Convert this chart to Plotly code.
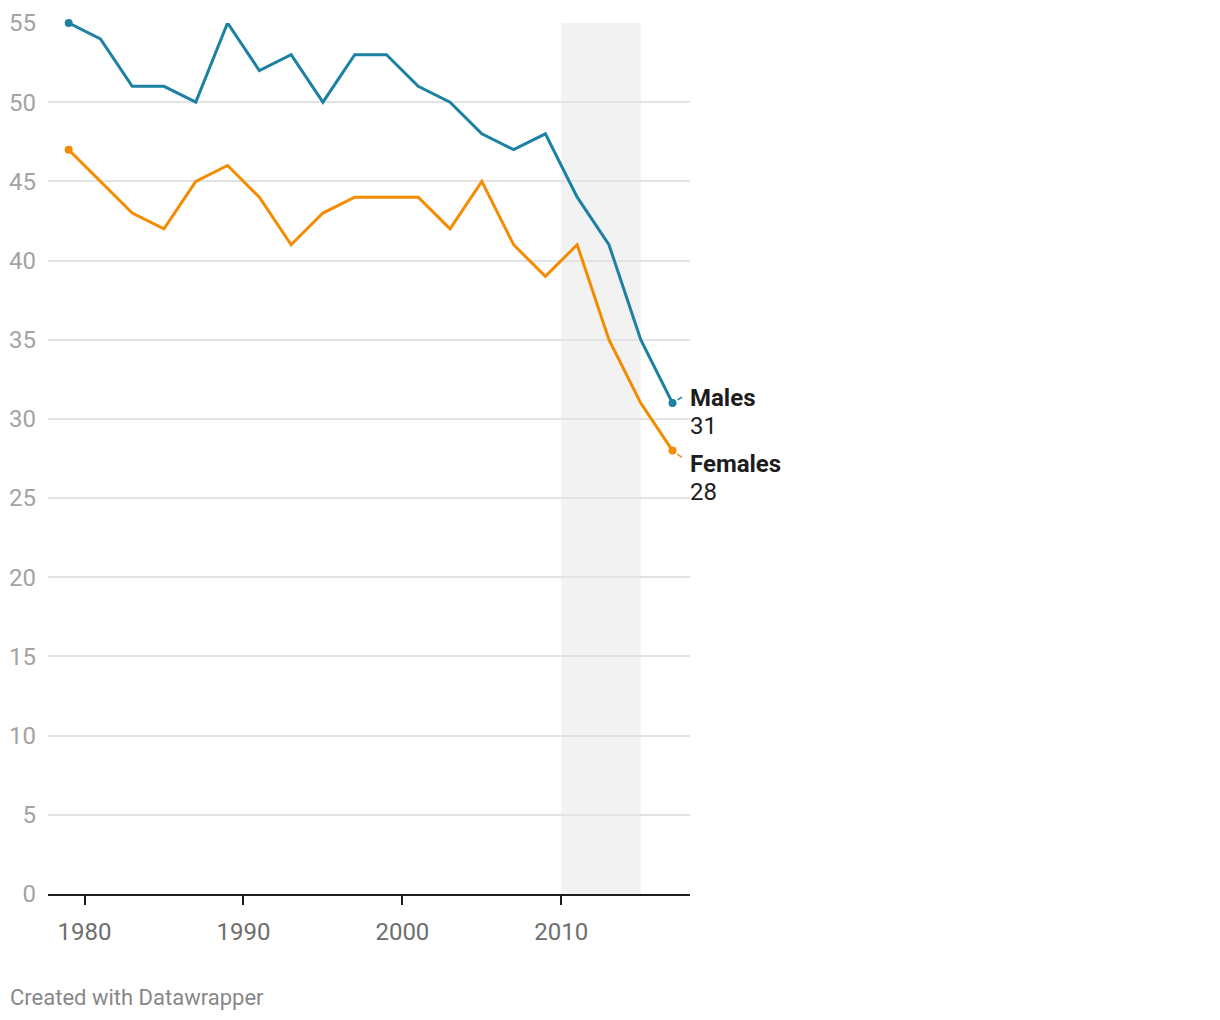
import plotly.graph_objects as go

years = [1979, 1981, 1983, 1985, 1987, 1989, 1991, 1993, 1995, 1997,
         1999, 2001, 2003, 2005, 2007, 2009, 2011, 2013, 2015, 2017]
males = [55, 54, 51, 51, 50, 55, 52, 53, 50, 53,
         53, 51, 50, 48, 47, 48, 44, 41, 35, 31]
females = [47, 45, 43, 42, 45, 46, 44, 41, 43, 44,
           44, 44, 42, 45, 41, 39, 41, 35, 31, 28]
shade_start, shade_end = 2010, 2015
x_ticks = [1980, 1990, 2000, 2010]
y_ticks = [0, 5, 10, 15, 20, 25, 30, 35, 40, 45, 50, 55]

BLUE = "#1d81a2"
ORANGE = "#f48b00"
FONT = "Roboto"

fig = go.Figure()

for name, vals, col in [("Males", males, BLUE), ("Females", females, ORANGE)]:
    fig.add_trace(go.Scatter(x=years, y=vals, mode="lines", line=dict(color=col, width=3),
                             name=name, showlegend=False, hoverinfo="skip", cliponaxis=False))
    fig.add_trace(go.Scatter(x=[years[0], years[-1]], y=[vals[0], vals[-1]], mode="markers",
                             marker=dict(color=col, size=8), showlegend=False,
                             hoverinfo="skip", cliponaxis=False))

fig.add_shape(type="rect", xref="x", yref="paper", x0=shade_start, x1=shade_end, y0=0, y1=1,
              fillcolor="#f2f2f2", line=dict(width=0), layer="below")

# end labels: (name, value, colour, name shift, value shift, connector ay)
labels = [("Males", males[-1], BLUE, 5, -23, -7), ("Females", females[-1], ORANGE, -13.5, -41.5, 8)]
for name, val, col, nshift, vshift, ay in labels:
    fig.add_annotation(x=years[-1], y=val, xref="x", yref="y",
                       text=f"<b>{name}</b>", showarrow=False,
                       xanchor="left", yanchor="middle", align="left",
                       xshift=15, yshift=nshift,
                       font=dict(family=FONT, size=24, color="#1d1d1d"))
    fig.add_annotation(x=years[-1], y=val, xref="x", yref="y",
                       text=f"{val}", showarrow=False,
                       xanchor="left", yanchor="middle", align="left",
                       xshift=15, yshift=vshift,
                       font=dict(family=FONT, size=24, color="#1d1d1d"))
    fig.add_annotation(x=years[-1], y=val, xref="x", yref="y", text="",
                       showarrow=True, arrowhead=0, arrowwidth=1.5, arrowcolor=col,
                       ax=11, ay=ay, axref="pixel", ayref="pixel", standoff=6)

fig.add_annotation(x=0, y=0, xref="paper", yref="paper", xanchor="left", yanchor="middle",
                   text="Created with Datawrapper", showarrow=False,
                   xshift=-40, yshift=-103,
                   font=dict(family=FONT, size=22, color="#888888"))

fig.update_layout(
    width=1220, height=1020,
    margin=dict(l=40, r=538, t=15, b=134),
    paper_bgcolor="white", plot_bgcolor="white",
    font=dict(family=FONT),
    xaxis=dict(range=[1977.7, 2018.1], tickvals=x_ticks, ticks="outside", ticklen=9,
               tickwidth=2, tickcolor="#1d1d1d", showgrid=False, zeroline=False,
               showline=True, linecolor="#1d1d1d", linewidth=2, automargin=False,
               tickfont=dict(family=FONT, size=24, color="#6e6e6e"), ticklabelstandoff=6),
    yaxis=dict(range=[0, 55], tickvals=y_ticks, showgrid=True, gridcolor="#e3e3e3",
               gridwidth=1.5, zeroline=False, showline=False, ticks="", automargin=False,
               tickfont=dict(family=FONT, size=24, color="#a3a3a3"), ticklabelstandoff=11),
)

fig.write_html("out.html")
